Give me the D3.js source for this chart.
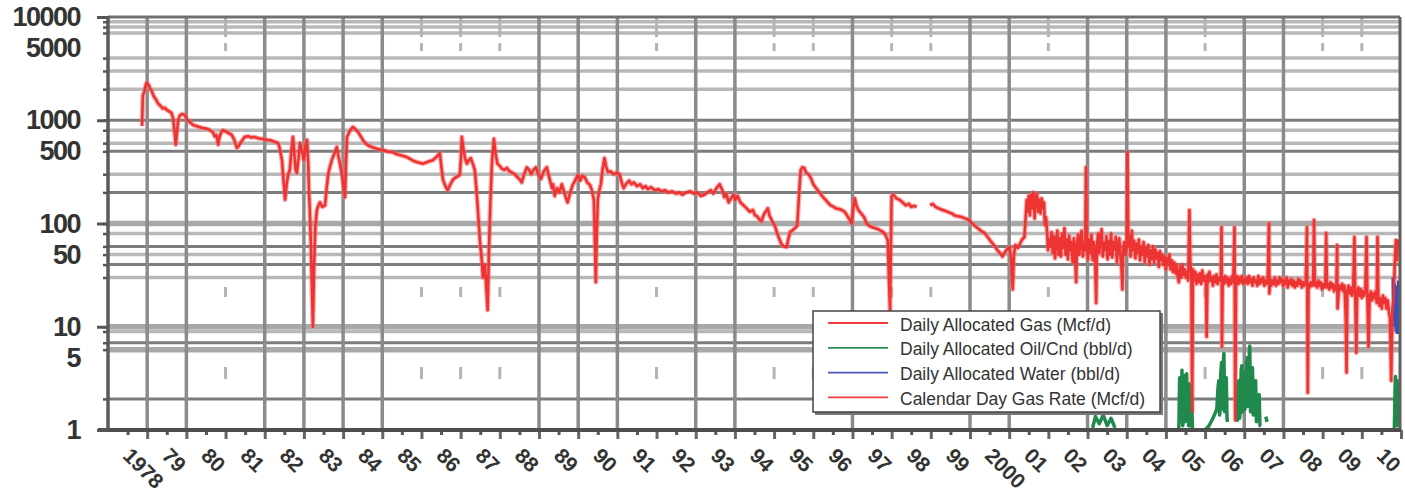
<!DOCTYPE html>
<html>
<head>
<meta charset="utf-8">
<script src="https://cdn.jsdelivr.net/npm/d3@7"></script>
<style>
  body { margin: 0; background: #fff; }
  svg { display: block; }
  text { font-family: "Liberation Sans", Arial, sans-serif; }
</style>
</head>
<body>
<svg id="chart" width="1405" height="494"></svg>
<script>
// ---- data ----
const yearTicks = [1978, 1979, 1980, 1981, 1982, 1983, 1984, 1985, 1986, 1987, 1988, 1989, 1990,
  1991, 1992, 1993, 1994, 1995, 1996, 1997, 1998, 1999, 2000, 2001, 2002, 2003, 2004, 2005,
  2006, 2007, 2008, 2009, 2010];
const yearLabels = ["1978", "79", "80", "81", "82", "83", "84", "85", "86", "87", "88", "89", "90",
  "91", "92", "93", "94", "95", "96", "97", "98", "99", "2000", "01", "02", "03", "04", "05",
  "06", "07", "08", "09", "10"];
const valueTicks = [1, 5, 10, 50, 100, 500, 1000, 5000, 10000];
const valueLabels = ["1", "5", "10", "50", "100", "500", "1000", "5000", "10000"];

// horizontal grid as printed (the scan drops some of the minor lines)
const gridDark = [1000, 500, 200, 60, 40, 7, 2];
const gridLight = [9000, 8000, 7000, 4000, 3000, 2000, 800, 600, 300, 80, 50, 30, 9];
const gridThick = [100, 10, 6];
const gridYearsSolid = [1978, 1979, 1981, 1982, 1983, 1984, 1988, 1989, 1990, 1992, 1993, 1996,
  1999, 2000, 2002, 2003, 2004, 2006, 2007];
const gridYearsFaint = [1980, 1985, 1986, 1987, 1991, 1994, 1995, 1997, 1998, 2001, 2005, 2008, 2009];

// daily gas, [year, Mcf/d]
const gasEarly = [
  [1977.87,880],[1977.88,1300],[1977.89,1750],[1977.93,1900],[1977.97,2250],[1977.99,2300],[1978.04,2200],
  [1978.07,2050],[1978.12,1900],[1978.17,1700],[1978.22,1600],[1978.28,1450],[1978.34,1380],[1978.40,1300],
  [1978.45,1320],[1978.50,1260],[1978.56,1220],[1978.62,1180],[1978.66,1050],[1978.68,900],[1978.71,700],
  [1978.73,580],[1978.76,760],[1978.79,1000],[1978.82,1080],[1978.84,1120],[1978.90,1150],[1978.96,1120],
  [1979.03,1000],[1979.10,950],[1979.17,900],[1979.25,880],[1979.33,860],[1979.42,840],[1979.50,830],
  [1979.56,820],[1979.60,800],[1979.68,760],[1979.72,700],[1979.76,720],[1979.79,650],[1979.81,580],
  [1979.85,700],[1979.90,780],[1979.93,800],[1980.00,780],[1980.08,750],[1980.16,720],[1980.22,650],
  [1980.26,580],[1980.29,540],[1980.33,560],[1980.40,620],[1980.49,690],[1980.58,700],[1980.66,680],
  [1980.72,690],[1980.78,680],[1980.86,665],[1980.95,660],[1981.06,645],[1981.15,640],[1981.25,620],
  [1981.34,600],[1981.38,540],[1981.41,470],[1981.44,410],[1981.48,260],[1981.52,170],[1981.56,240],
  [1981.60,300],[1981.64,330],[1981.68,500],[1981.72,690],[1981.76,450],[1981.79,330],[1981.82,310],
  [1981.86,420],[1981.90,600],[1981.94,520],[1982.00,410],[1982.04,560],[1982.08,645],[1982.11,380],
  [1982.13,200],[1982.15,135],[1982.18,60],[1982.21,20],[1982.23,10],[1982.26,40],[1982.29,90],
  [1982.33,135],[1982.37,150],[1982.41,160],[1982.47,145],[1982.54,150],[1982.58,220],[1982.62,300],
  [1982.66,350],[1982.72,420],[1982.78,480],[1982.84,550],[1982.88,450],[1982.92,380],[1982.97,300],
  [1983.01,230],[1983.05,180],[1983.07,350],[1983.10,690],[1983.15,760],[1983.20,820],[1983.25,860],
  [1983.30,830],[1983.38,770],[1983.45,700],[1983.52,630],[1983.61,580],[1983.68,560],[1983.77,545],
  [1983.86,530],[1983.95,520],[1984.05,510],[1984.15,495],[1984.27,490],[1984.36,470],[1984.45,460],
  [1984.54,450],[1984.63,440],[1984.72,420],[1984.82,400],[1984.92,390],[1985.04,380],[1985.12,390],
  [1985.20,400],[1985.29,410],[1985.38,440],[1985.47,480],[1985.51,350],[1985.55,265],[1985.61,230],
  [1985.67,210],[1985.74,240],[1985.80,265],[1985.88,280],[1985.98,295],[1986.01,450],[1986.03,690],
  [1986.08,500],[1986.12,420],[1986.16,380],[1986.21,410],[1986.26,430],[1986.31,380],[1986.36,330],
  [1986.40,220],[1986.44,135],[1986.49,70],[1986.54,44],[1986.57,30],[1986.60,36],[1986.62,40],
  [1986.66,22],[1986.69,14.5],[1986.72,50],[1986.76,160],[1986.80,400],[1986.85,660],[1986.89,480],
  [1986.94,380],[1987.00,360],[1987.05,340],[1987.11,330],[1987.18,345],[1987.25,320],[1987.32,310],
  [1987.38,300],[1987.45,280],[1987.50,270],[1987.56,250],[1987.62,300],[1987.69,350],[1987.75,330],
  [1987.80,300],[1987.86,330],[1987.92,350],[1987.98,300],[1988.05,270],[1988.12,320],[1988.20,350],
  [1988.26,280],[1988.33,220],[1988.36,240],[1988.40,185],[1988.46,220],[1988.52,200],[1988.58,240],
  [1988.63,210],[1988.68,180],[1988.73,160],[1988.80,200],[1988.86,236],[1988.92,260],[1988.99,295],
  [1989.05,260],[1989.10,290],[1989.17,280],[1989.23,250],[1989.30,236],[1989.35,210],[1989.40,170],
  [1989.43,60],[1989.45,27],[1989.47,70],[1989.50,170],[1989.54,210],[1989.58,240],[1989.62,330],
  [1989.67,430],[1989.71,360],[1989.76,315],[1989.83,320],[1989.90,300],[1989.98,310],[1990.06,300],
  [1990.11,250],[1990.16,220],[1990.22,240],[1990.30,260],[1990.36,240],[1990.42,250],[1990.50,230],
  [1990.58,240],[1990.65,220],[1990.72,230],[1990.78,215],[1990.86,225],[1990.95,210],[1991.04,215],
  [1991.13,205],[1991.22,210],[1991.30,200],[1991.40,205],[1991.50,195],[1991.58,200],[1991.66,190],
  [1991.76,200],[1991.86,205],[1991.94,195],[1992.04,200],[1992.13,185],[1992.22,190],[1992.30,200],
  [1992.38,210],[1992.45,195],[1992.53,220],[1992.61,240],[1992.68,210],[1992.73,180],[1992.78,195],
  [1992.84,160],[1992.90,175],[1992.96,190],[1993.01,170],[1993.07,185],[1993.14,160],[1993.22,150],
  [1993.30,140],[1993.38,130],[1993.46,135],[1993.51,120],[1993.56,118],[1993.62,110],[1993.68,105],
  [1993.73,120],[1993.78,130],[1993.84,140],[1993.88,120],[1993.93,110],[1993.98,100],[1994.02,95],
  [1994.08,80],[1994.14,70],[1994.19,63],[1994.25,60],[1994.32,59],[1994.36,70],[1994.41,83],
  [1994.47,86],[1994.53,90],[1994.59,95],[1994.64,200],[1994.68,330],[1994.72,350],[1994.77,345],
  [1994.82,310],[1994.88,300],[1994.95,270],[1995.00,240],[1995.07,220],[1995.14,205],[1995.20,190],
  [1995.25,180],[1995.31,170],[1995.37,160],[1995.44,150],[1995.52,145],[1995.58,140],[1995.66,138],
  [1995.73,135],[1995.80,130],[1995.86,120],[1995.92,110],[1995.98,100],[1996.02,140],[1996.06,175],
  [1996.10,150],[1996.15,135],[1996.23,124],[1996.30,115],[1996.36,100],[1996.43,95],[1996.50,92],
  [1996.58,90],[1996.66,88],[1996.72,85],[1996.78,83],[1996.84,78],[1996.90,69],[1996.93,30],
  [1996.96,14],[1996.98,60],[1997.00,185],[1997.05,190],[1997.12,175],[1997.20,170],[1997.28,160],
  [1997.36,150],[1997.44,155],[1997.50,145],[1997.57,148],[1997.64,145],[1997.66,null],
  [1997.98,150],[1998.05,155],[1998.12,145],[1998.20,140],[1998.30,135],[1998.38,132],[1998.46,128],
  [1998.54,125],[1998.60,120],[1998.66,118],[1998.73,117],[1998.80,115],[1998.87,112],[1998.94,110],
  [1999.00,105],[1999.06,100],[1999.12,95],[1999.20,90],[1999.28,85],[1999.37,81],[1999.45,74],
  [1999.52,68],[1999.58,64],[1999.65,59],[1999.70,55],[1999.76,52],[1999.83,48],[1999.88,52],
  [1999.94,56],[2000.01,59],[2000.05,45],[2000.09,23],[2000.12,50],[2000.16,62],[2000.22,58],
  [2000.27,63],[2000.33,70],[2000.39,74],[2000.41,100],[2000.44,151]
];
const gasLate = [
  [2000.45,170],[2000.48,130],[2000.50,185],[2000.53,120],[2000.56,190],[2000.59,140],[2000.62,200],
  [2000.65,112],[2000.68,180],[2000.71,195],[2000.74,130],[2000.77,170],[2000.80,125],[2000.83,175],
  [2000.86,140],[2000.89,160],[2000.91,97],[2000.94,115],[2000.97,80],[2000.99,55],[2001.02,70],
  [2001.05,60],[2001.08,82],[2001.11,52],[2001.14,75],[2001.17,46],[2001.20,68],[2001.23,85],
  [2001.26,50],[2001.29,72],[2001.32,48],[2001.35,80],[2001.38,58],[2001.41,90],[2001.44,50],
  [2001.47,70],[2001.50,45],[2001.53,76],[2001.56,55],[2001.59,66],[2001.62,42],[2001.65,72],
  [2001.68,52],[2001.71,27],[2001.73,64],[2001.76,78],[2001.79,50],[2001.82,70],[2001.85,85],
  [2001.88,48],[2001.91,66],[2001.94,55],[2001.96,350],[2001.98,60],[2002.01,45],[2002.04,70],
  [2002.07,52],[2002.10,78],[2002.13,44],[2002.16,66],[2002.19,50],[2002.22,17],[2002.24,60],
  [2002.27,80],[2002.30,52],[2002.33,72],[2002.36,88],[2002.39,48],[2002.42,65],[2002.45,55],
  [2002.48,75],[2002.51,45],[2002.54,68],[2002.57,50],[2002.60,80],[2002.63,47],[2002.66,66],
  [2002.69,56],[2002.72,74],[2002.75,42],[2002.78,62],[2002.81,72],[2002.84,48],[2002.87,35],
  [2002.89,23],[2002.91,58],[2002.94,66],[2002.97,50],[2003.00,62],[2003.02,490],[2003.04,60],
  [2003.07,75],[2003.10,48],[2003.13,85],[2003.16,55],[2003.19,68],[2003.22,46],[2003.25,64],
  [2003.28,52],[2003.31,70],[2003.34,44],[2003.37,60],[2003.40,50],[2003.43,66],[2003.46,42],
  [2003.49,58],[2003.52,48],[2003.55,62],[2003.58,40],[2003.61,55],[2003.64,45],[2003.67,60],
  [2003.70,42],[2003.73,56],[2003.76,46],[2003.79,52],[2003.82,38],[2003.85,54],[2003.88,44],
  [2003.91,50],[2003.94,40],[2003.97,48],[2004.00,36],[2004.03,46],[2004.06,40],[2004.09,50],
  [2004.12,36],[2004.15,44],[2004.18,34],[2004.21,42],[2004.24,33],[2004.27,40],[2004.30,31],
  [2004.33,27],[2004.36,38],[2004.39,30],[2004.42,40],[2004.45,32],[2004.48,36],[2004.51,30],
  [2004.54,34],[2004.57,28],[2004.60,135],[2004.62,44],[2004.65,30],[2004.67,1.5],[2004.69,36],
  [2004.72,28],[2004.75,34],[2004.78,26],[2004.81,32],[2004.84,27],[2004.87,33],[2004.90,26],
  [2004.93,35],[2004.96,28],[2004.99,31],[2005.02,26],[2005.04,8],[2005.06,32],[2005.08,27],
  [2005.11,34],[2005.14,28],[2005.17,30],[2005.20,25],[2005.23,31],[2005.26,27],[2005.29,32],
  [2005.32,26],[2005.36,30],[2005.40,28],[2005.42,92],[2005.43,6.4],[2005.45,30],[2005.48,26],
  [2005.51,31],[2005.54,27],[2005.57,30],[2005.60,25],[2005.63,29],[2005.66,26],[2005.69,31],
  [2005.72,27],[2005.75,92],[2005.77,1.25],[2005.79,28],[2005.82,31],[2005.85,26],[2005.88,30],
  [2005.91,27],[2005.94,31],[2005.97,26],[2006.00,29],[2006.03,27],[2006.06,30],[2006.09,26],
  [2006.12,31],[2006.15,27],[2006.18,29],[2006.21,25],[2006.24,30],[2006.27,27],[2006.30,28],
  [2006.33,25],[2006.36,31],[2006.39,26],[2006.42,29],[2006.45,27],[2006.48,30],[2006.51,25],
  [2006.54,28],[2006.57,26],[2006.60,30],[2006.63,100],[2006.64,21],[2006.66,29],[2006.69,25],
  [2006.72,28],[2006.75,26],[2006.78,30],[2006.81,25],[2006.84,28],[2006.87,26],[2006.90,30],
  [2006.93,27],[2006.96,29],[2006.99,25],[2007.02,28],[2007.05,26],[2007.08,30],[2007.11,24],
  [2007.14,28],[2007.17,26],[2007.20,29],[2007.23,25],[2007.26,28],[2007.29,24],[2007.32,27],
  [2007.35,25],[2007.38,29],[2007.41,26],[2007.44,28],[2007.47,24],[2007.50,27],[2007.53,25],
  [2007.57,28],[2007.60,92],[2007.62,2.3],[2007.64,26],[2007.67,24],[2007.70,27],[2007.73,25],
  [2007.76,28],[2007.78,108],[2007.80,25],[2007.83,27],[2007.86,24],[2007.89,28],[2007.92,25],
  [2007.95,27],[2007.98,23],[2008.01,26],[2008.04,24],[2008.07,27],[2008.09,81],[2008.11,24],
  [2008.14,26],[2008.17,23],[2008.20,27],[2008.23,24],[2008.26,26],[2008.29,22],[2008.32,25],
  [2008.35,23],[2008.37,62],[2008.38,15],[2008.41,22],[2008.44,25],[2008.47,23],[2008.50,26],
  [2008.53,22],[2008.56,25],[2008.59,12],[2008.61,3.6],[2008.63,22],[2008.66,25],[2008.69,21],
  [2008.72,24],[2008.75,20],[2008.78,23],[2008.81,74],[2008.83,22],[2008.86,5.6],[2008.88,21],
  [2008.91,24],[2008.94,20],[2008.97,23],[2009.00,19],[2009.03,22],[2009.06,20],[2009.09,23],
  [2009.12,74],[2009.14,21],[2009.17,6.4],[2009.20,20],[2009.23,22],[2009.26,18],[2009.29,21],
  [2009.32,19],[2009.35,22],[2009.38,17],[2009.40,74],[2009.42,20],[2009.45,16],[2009.48,19],
  [2009.51,15],[2009.54,20],[2009.57,17],[2009.60,19],[2009.63,15],[2009.66,18],[2009.69,14],
  [2009.72,12],[2009.75,3],[2009.78,15],[2009.81,18],[2009.84,40],[2009.87,69],[2009.90,44],
  [2009.92,70]
];
const gasDaily = gasEarly.concat(gasLate);

// daily oil/condensate, [year, bbl/d]
const oilDaily = [
  [2002.13,1.05],[2002.2,1.35],[2002.3,1.15],[2002.4,1.4],[2002.5,1.1],[2002.6,1.3],[2002.7,1.05],[2002.75,null],
  [2004.33,1.0],[2004.35,3.2],[2004.36,1.2],[2004.38,2.5],[2004.40,1.3],[2004.41,3.8],[2004.43,1.1],[2004.44,3.0],
  [2004.46,1.5],[2004.47,2.6],[2004.49,1.2],[2004.50,3.4],[2004.52,1.3],[2004.53,3.5],[2004.55,1.4],[2004.56,2.2],
  [2004.58,1.1],[2004.59,2.8],[2004.61,1.1],[2004.62,2.0],[2004.64,1.2],[2004.65,2.2],[2004.68,1.0],[2004.7,null],
  [2005.0,1.0],[2005.1,1.1],[2005.2,1.3],[2005.27,1.5],[2005.3,1.6],[2005.33,2.6],[2005.35,3.0],[2005.37,1.4],
  [2005.38,1.5],[2005.40,3.5],[2005.42,4.5],[2005.44,1.6],[2005.45,2.0],[2005.47,4.8],[2005.48,5.5],[2005.50,1.5],
  [2005.51,1.8],[2005.53,2.8],[2005.54,3.2],[2005.56,1.3],[2005.57,1.2],[2005.6,null],
  [2005.82,1.2],[2005.84,2.5],[2005.86,3.0],[2005.88,1.3],[2005.9,1.5],[2005.92,3.8],[2005.94,4.2],[2005.96,1.5],
  [2005.97,1.8],[2005.99,3.0],[2006.0,3.6],[2006.02,1.6],[2006.04,2.0],[2006.06,4.5],[2006.08,5.0],[2006.10,1.7],
  [2006.11,2.2],[2006.13,5.5],[2006.14,6.5],[2006.16,1.5],[2006.17,1.8],[2006.19,3.5],[2006.21,4.0],[2006.23,1.4],
  [2006.25,1.6],[2006.27,2.8],[2006.29,3.0],[2006.31,1.2],[2006.33,1.3],[2006.36,2.0],[2006.38,2.2],[2006.40,1.1],
  [2006.42,1.1],[2006.45,null],[2006.55,1.35],[2006.58,1.2],[2006.6,null],
  [2009.83,1.0],[2009.85,2.6],[2009.86,3.3],[2009.87,1.2],[2009.88,1.5],[2009.89,2.8],[2009.9,3.0],[2009.91,1.1],
  [2009.92,1.2],[2009.93,2.5],[2009.94,2.8]
];

// daily water, [year, bbl/d]
const waterDaily = [
  [2009.80,30],[2009.82,12],[2009.83,26],[2009.85,10],[2009.86,25],[2009.88,9],[2009.89,22],
  [2009.90,20],[2009.91,8.5],[2009.92,24],[2009.93,9],[2009.94,28]
];

const legendNames = ["Daily Allocated Gas (Mcf/d)", "Daily Allocated Oil/Cnd (bbl/d)",
  "Daily Allocated Water (bbl/d)", "Calendar Day Gas Rate (Mcf/d)"];
const legendColors = ["#ef3b3b", "#2f9158", "#4a55b8", "#ef3b3b"];

// ---- drawing ----
const svg = d3.select("#chart");
const plotLeft = 108, plotRight = 1400, plotTop = 17, plotBottom = 430;

const x = d3.scaleLinear().domain([1977, 2010]).range([plotLeft, 1401]);
const y = d3.scaleLog().domain([1, 10000]).range([plotBottom, plotTop]);

const root = svg.append("g");

// horizontal grid
const hgrid = root.append("g");
hgrid.selectAll(".gl").data(gridLight).enter().append("line")
  .attr("x1", plotLeft).attr("x2", plotRight)
  .attr("y1", d => y(d)).attr("y2", d => y(d))
  .style("stroke", "#b8b8b8").style("stroke-width", 3.5);
hgrid.selectAll(".gt").data(gridThick).enter().append("line")
  .attr("x1", plotLeft).attr("x2", plotRight)
  .attr("y1", d => y(d)).attr("y2", d => y(d))
  .style("stroke", "#a8a8a8").style("stroke-width", 5.5);
hgrid.selectAll(".gd").data(gridDark).enter().append("line")
  .attr("x1", plotLeft).attr("x2", plotRight)
  .attr("y1", d => y(d)).attr("y2", d => y(d))
  .style("stroke", "#7c7c7c").style("stroke-width", 3);

// vertical grid (faint years only survive as a top stub and a few dots in the scan)
const vgrid = root.append("g");
vgrid.selectAll(".vf").data(gridYearsFaint).enter().append("line")
  .attr("x1", d => x(d)).attr("x2", d => x(d))
  .attr("y1", plotTop).attr("y2", plotBottom)
  .style("stroke", "#b4b4b4").style("stroke-width", 3)
  .style("stroke-dasharray", "20,6,8,236,10,70,12,100");
vgrid.selectAll(".vs").data(gridYearsSolid).enter().append("line")
  .attr("x1", d => x(d)).attr("x2", d => x(d))
  .attr("y1", plotTop).attr("y2", plotBottom)
  .style("stroke", "#8b8b8b").style("stroke-width", 3.5);

// series
const line = d3.line()
  .defined(d => d[1] != null)
  .x(d => x(d[0]))
  .y(d => y(d[1]));

const plot = root.append("g");
// calendar day rate sits under the allocated gas line
plot.append("path").datum(gasDaily)
  .attr("d", line)
  .style("fill", "none").style("stroke", "#f47373").style("stroke-width", 5)
  .style("stroke-opacity", 0.55).style("stroke-linejoin", "round");
plot.append("path").datum(oilDaily)
  .attr("d", line)
  .style("fill", "none").style("stroke", "#1f8a4c").style("stroke-width", 3.5)
  .style("stroke-linejoin", "round");
plot.append("path").datum(waterDaily)
  .attr("d", line)
  .style("fill", "none").style("stroke", "#3f4db5").style("stroke-width", 3.5);
plot.append("path").datum(gasDaily)
  .attr("d", line)
  .style("fill", "none").style("stroke", "#ee3333").style("stroke-width", 2.6)
  .style("stroke-linejoin", "round");

// frame
root.append("line").attr("x1", plotLeft).attr("x2", plotRight).attr("y1", plotTop).attr("y2", plotTop)
  .style("stroke", "#707070").style("stroke-width", 3);
root.append("line").attr("x1", plotRight).attr("x2", plotRight).attr("y1", plotTop).attr("y2", plotBottom)
  .style("stroke", "#606060").style("stroke-width", 3);

// x axis: year ticks with labels, half-year small ticks
const xAxis = root.append("g")
  .attr("transform", `translate(0,${plotBottom})`)
  .call(d3.axisBottom(x).tickValues(yearTicks).tickSize(9)
    .tickFormat((d, i) => yearLabels[i]));
xAxis.select(".domain").remove();
xAxis.selectAll(".tick line").style("stroke", "#666").style("stroke-width", 3);
xAxis.selectAll(".tick text")
  .attr("y", null).attr("dy", null)
  .attr("transform", "translate(-26,27) rotate(45)")
  .style("text-anchor", "start")
  .style("font-size", "21px").style("font-weight", "bold")
  .style("fill", "#333");

const halfYears = yearTicks.map(d => d - 0.5);
root.append("g")
  .attr("transform", `translate(0,${plotBottom})`)
  .call(d3.axisBottom(x).tickValues(halfYears).tickSize(5).tickFormat(""))
  .call(g => g.select(".domain").remove())
  .selectAll(".tick line").style("stroke", "#555").style("stroke-width", 3);

root.append("line").attr("x1", plotLeft - 10).attr("x2", plotRight + 1).attr("y1", plotBottom).attr("y2", plotBottom)
  .style("stroke", "#4d4d4d").style("stroke-width", 4);

// y axis
const yAxis = root.append("g")
  .attr("transform", `translate(${plotLeft},0)`)
  .call(d3.axisLeft(y).tickValues(valueTicks).tickSize(0).tickPadding(28)
    .tickFormat((d, i) => valueLabels[i]));
yAxis.select(".domain").remove();
yAxis.selectAll(".tick text")
  .style("font-size", "27px").style("font-weight", "bold")
  .style("letter-spacing", "-1.5px").style("fill", "#333");

const allGrid = gridDark.concat(gridLight, gridThick, [10000]);
root.append("g")
  .attr("transform", `translate(${plotLeft},0)`)
  .call(d3.axisLeft(y).tickValues(allGrid).tickSize(5).tickFormat(""))
  .call(g => g.select(".domain").remove())
  .selectAll(".tick line").style("stroke", "#555").style("stroke-width", 2.5);
root.append("g")
  .attr("transform", `translate(${plotLeft},0)`)
  .call(d3.axisLeft(y).tickValues([1, 10, 100, 1000, 10000]).tickSize(11).tickFormat(""))
  .call(g => g.select(".domain").remove())
  .selectAll(".tick line").style("stroke", "#555").style("stroke-width", 3);
root.append("line").attr("x1", plotLeft).attr("x2", plotLeft).attr("y1", plotTop - 1).attr("y2", plotBottom)
  .style("stroke", "#5a5a5a").style("stroke-width", 3.5);

// legend
const legend = root.append("g").attr("transform", "translate(813,311)");
legend.append("rect")
  .attr("x", 2).attr("y", 2).attr("width", 348).attr("height", 102)
  .style("fill", "#777");
legend.append("rect")
  .attr("width", 347).attr("height", 101)
  .style("fill", "#fff").style("stroke", "#444").style("stroke-width", 1.5);
const rows = legend.selectAll(".row").data(legendNames).enter().append("g")
  .attr("transform", (d, i) => `translate(0,${12 + i * 24.8})`);
rows.append("line")
  .attr("x1", 15).attr("x2", 75).attr("y1", 0).attr("y2", 0)
  .style("stroke", (d, i) => legendColors[i]).style("stroke-width", 1.8);
rows.append("text")
  .attr("x", 87).attr("y", 3)
  .attr("dominant-baseline", "middle")
  .style("font-size", "17.5px").style("fill", "#333")
  .text(d => d);
</script>
</body>
</html>
